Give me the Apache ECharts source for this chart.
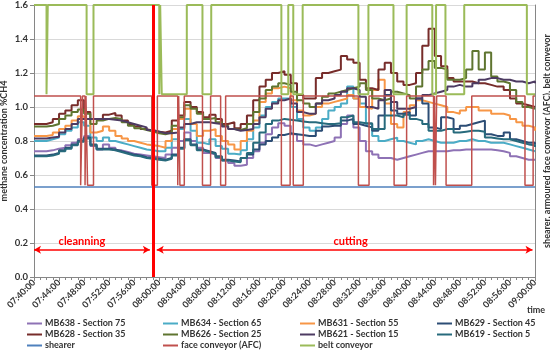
<!DOCTYPE html>
<html><head><meta charset="utf-8">
<script src="https://cdn.jsdelivr.net/npm/echarts@6/dist/echarts.min.js"></script>
<style>html,body{margin:0;padding:0;background:#fff}#c{width:550px;height:353px}</style>
</head><body><div id="c"></div>
<script>
// ---- tick labels (every 4 minutes from 07:40) ----
const timeLabels = ['07:40:00','07:44:00','07:48:00','07:52:00','07:56:00','08:00:00','08:04:00','08:08:00','08:12:00','08:16:00','08:20:00','08:24:00','08:28:00','08:32:00','08:36:00','08:40:00','08:44:00','08:48:00','08:52:00','08:56:00','09:00:00'];
// minutes after 07:40, one sample per minute
const minutes = Array.from({length: 81}, (_, i) => i);

// ---- methane concentration %CH4, one value per minute (m0..m80) ----
const mb638 = [0.74,0.74,0.745,0.755,0.76,0.775,0.79,0.81,0.83,0.77,0.75,0.78,0.76,0.745,0.735,0.725,0.72,0.715,0.71,0.705,0.70,
  0.72,0.76,0.80,0.85,0.80,0.76,0.73,0.72,0.70,0.685,0.67,0.655,0.66,0.70,0.74,0.79,0.84,0.88,0.905,0.89,
  0.84,0.80,0.78,0.77,0.78,0.79,0.80,0.82,0.90,0.95,0.88,0.80,0.74,0.72,0.70,0.70,0.69,0.70,0.71,0.72,
  0.73,0.74,0.74,0.74,0.74,0.745,0.745,0.75,0.75,0.75,0.75,0.75,0.745,0.74,0.73,0.71,0.70,0.69,0.69,0.69];
const mb634 = [0.80,0.80,0.81,0.82,0.84,0.86,0.88,0.91,0.89,0.82,0.80,0.82,0.80,0.79,0.78,0.77,0.76,0.75,0.745,0.74,0.74,
  0.76,0.81,0.87,0.93,0.86,0.79,0.78,0.81,0.77,0.755,0.725,0.72,0.745,0.81,0.88,0.95,1.00,1.03,1.05,1.05,
  1.00,0.93,0.88,0.86,0.88,0.93,0.98,1.00,1.02,1.12,1.05,1.02,0.90,0.83,0.80,0.81,0.82,0.80,0.79,0.78,
  0.80,0.81,0.80,0.79,0.79,0.79,0.80,0.80,0.81,0.80,0.80,0.79,0.79,0.79,0.78,0.77,0.76,0.75,0.74,0.74];
const mb631 = [0.83,0.83,0.835,0.85,0.87,0.89,0.92,0.945,0.93,0.85,0.86,0.885,0.86,0.83,0.815,0.80,0.79,0.78,0.775,0.77,0.76,
  0.80,0.87,0.93,0.99,0.90,0.83,0.86,0.87,0.83,0.80,0.78,0.75,0.80,0.86,0.92,1.03,1.08,1.11,1.12,1.11,
  1.04,0.98,0.95,0.96,1.00,1.02,1.03,1.04,1.05,1.07,1.05,1.00,0.99,1.10,1.16,1.02,0.90,0.88,0.97,1.01,
  1.04,1.03,1.02,1.01,1.00,0.97,0.96,0.98,1.00,1.00,0.98,0.98,0.96,0.96,0.95,0.93,0.91,0.89,0.88,0.86];
const mb629 = [0.715,0.715,0.72,0.73,0.745,0.76,0.78,0.80,0.82,0.78,0.755,0.755,0.75,0.74,0.73,0.72,0.715,0.705,0.70,0.695,0.69,
  0.70,0.72,0.76,0.81,0.78,0.75,0.74,0.73,0.71,0.69,0.685,0.68,0.70,0.72,0.75,0.78,0.80,0.82,0.835,0.845,
  0.84,0.835,0.83,0.83,0.86,0.885,0.89,0.89,0.92,0.93,0.90,0.89,0.88,0.86,0.95,1.07,0.98,0.96,0.97,0.95,
  1.05,1.02,0.88,0.87,0.94,0.93,0.87,0.89,0.90,0.91,0.92,0.84,0.83,0.83,0.85,0.81,0.80,0.79,0.79,0.78];
const mb628 = [0.90,0.90,0.91,0.93,0.96,0.98,1.01,1.04,0.97,0.93,0.93,0.955,0.965,0.95,0.92,0.90,0.885,0.87,0.86,0.855,0.85,
  0.86,0.92,0.95,1.03,1.00,0.97,0.94,0.955,0.93,0.90,0.91,0.875,0.90,0.95,1.04,1.12,1.16,1.20,1.21,1.19,
  1.14,1.07,1.05,1.05,1.17,1.20,1.21,1.22,1.30,1.28,1.26,1.16,1.11,1.10,1.22,1.26,1.20,1.15,1.13,1.14,
  1.20,1.36,1.46,1.30,1.24,1.17,1.15,1.15,1.15,1.14,1.14,1.13,1.12,1.12,1.10,1.05,1.02,1.01,1.00,1.00];
const mb626 = [0.885,0.885,0.89,0.90,0.93,0.95,0.97,0.985,0.96,0.90,0.92,0.93,0.935,0.93,0.91,0.89,0.875,0.865,0.855,0.845,0.84,
  0.85,0.89,0.94,1.01,0.99,0.96,0.93,0.935,0.91,0.89,0.87,0.865,0.875,0.90,0.97,1.05,1.10,1.12,1.14,1.13,
  1.09,1.04,1.02,1.00,1.02,1.06,1.08,1.09,1.10,1.11,1.12,1.14,1.10,1.05,1.04,1.05,1.09,1.08,1.07,1.05,
  1.12,1.22,1.27,1.23,1.22,1.16,1.16,1.17,1.22,1.33,1.22,1.32,1.18,1.15,1.14,1.10,1.03,1.00,0.99,0.99];
const mb621 = [0.815,0.815,0.82,0.825,0.85,0.87,0.90,0.93,0.93,0.93,0.93,0.93,0.925,0.92,0.91,0.90,0.89,0.88,0.865,0.855,0.845,
  0.845,0.85,0.88,0.90,0.91,0.91,0.91,0.905,0.90,0.885,0.87,0.86,0.865,0.87,0.90,0.94,0.99,1.02,1.04,1.05,
  1.02,0.97,0.96,0.96,1.02,1.04,1.05,1.07,1.09,1.11,1.10,1.06,1.00,0.99,1.04,1.10,1.03,0.99,0.99,1.00,
  1.05,1.07,1.08,1.09,1.10,1.12,1.13,1.12,1.12,1.14,1.16,1.17,1.17,1.16,1.16,1.15,1.15,1.14,1.15,1.14];
const mb619 = [0.71,0.71,0.715,0.725,0.74,0.755,0.775,0.795,0.815,0.775,0.75,0.75,0.745,0.735,0.725,0.715,0.71,0.70,0.695,0.69,0.685,
  0.695,0.715,0.755,0.805,0.775,0.745,0.735,0.725,0.705,0.685,0.68,0.675,0.70,0.73,0.79,0.85,0.90,0.92,0.93,0.925,
  0.92,0.915,0.91,0.91,0.905,0.90,0.90,0.905,0.94,0.95,0.91,0.905,0.905,0.87,0.87,0.95,0.95,0.94,0.955,0.93,
  0.92,0.90,0.86,0.86,0.87,0.87,0.85,0.855,0.86,0.86,0.855,0.82,0.815,0.81,0.81,0.80,0.79,0.78,0.775,0.765];

// ---- machines (right axis, state signals) ----
const shearerLevel = 0.53;
const afcOnLevel = 1.065, afcOffLevel = 0.54;
const beltOnLevel = 1.6, beltOffLevel = 1.075;
const afcSwitchMin = [0,7.45,7.75,8.15,8.3,8.55,9.5,18.8,19.7,22.95,23.1,23.3,24.0,26.9,28.2,29.8,30.6,39.5,40.9,41.4,43.0,51.8,53.5,57.5,59.5,63.8,63.95,64.1,64.3,65.8,69.9,78.4,79.7];
const afcState     = [1,0,1,0,1,0,1,0,1,0,1,0,1,0,1,0,1,0,1,0,1,0,1,0,1,0,1,0,1,0,1,0,1];
const beltSwitchMin = [0,2.0,2.2,8.4,9.5,20.0,20.15,20.4,24.4,26.9,28.3,39.5,40.6,41.4,42.9,51.8,53.4,57.4,59.5,63.6,64.2,65.7,68.7,78.7];
const beltState     = [1,0,1,0,1,0,1,0,1,0,1,0,1,0,1,0,1,0,1,0,1,0,1,0];
const markerMinute = 19.05;   // red line: end of cleaning / start of cutting
const phaseArrowLevel = 0.16;

const FONT = 'Lato';
const TXT = '#333333';

function pairs(vals) { return minutes.map((m, i) => [m, vals[i]]); }
function stateData(sw, st, on, off) {
  const d = sw.map((t, i) => [t, st[i] ? on : off]);
  d.push([80, st[st.length - 1] ? on : off]);
  return d;
}

const methane = [
  ['MB638 - Section 75', mb638, '#8e72b5'],
  ['MB634 - Section 65', mb634, '#4BACC6'],
  ['MB631 - Section 55', mb631, '#F79646'],
  ['MB629 - Section 45', mb629, '#2C4D75'],
  ['MB628 - Section 35', mb628, '#772C2A'],
  ['MB626 - Section 25', mb626, '#5F7530'],
  ['MB621 - Section 15', mb621, '#4D3B62'],
  ['MB619 - Section 5',  mb619, '#276A7C']
];

const series = methane.map(([name, vals, color]) => ({
  name, type: 'line', step: 'end', symbol: 'none', showSymbol: false, data: pairs(vals),
  lineStyle: { color, width: 2 }, itemStyle: { color }, z: 2
}));
series.push({
  name: 'shearer', type: 'line', yAxisIndex: 1, symbol: 'none', showSymbol: false,
  data: [[0, shearerLevel], [80, shearerLevel]],
  lineStyle: { color: '#4F81BD', width: 1.5 }, itemStyle: { color: '#4F81BD' }, z: 3
});
series.push({
  name: 'face conveyor (AFC)', type: 'line', yAxisIndex: 1, step: 'end', symbol: 'none', showSymbol: false,
  data: stateData(afcSwitchMin, afcState, afcOnLevel, afcOffLevel),
  lineStyle: { color: '#C0504D', width: 1.5 }, itemStyle: { color: '#C0504D' }, z: 3
});
series.push({
  name: 'belt conveyor', type: 'line', yAxisIndex: 1, step: 'end', symbol: 'none', showSymbol: false,
  data: stateData(beltSwitchMin, beltState, beltOnLevel, beltOffLevel),
  lineStyle: { color: '#9BBB59', width: 2 }, itemStyle: { color: '#9BBB59' }, z: 4,
  markLine: {
    silent: true, animation: false,
    symbol: ['arrow', 'arrow'], symbolSize: [6, 7],
    lineStyle: { color: '#ff0000', width: 1.5, type: 'solid' },
    label: { show: true, position: 'middle', color: '#ff0000', fontWeight: 'bold', fontSize: 11, fontFamily: FONT, distance: 3 },
    data: [
      [{ coord: [0, phaseArrowLevel], label: { formatter: 'cleanning', padding: [0, 20, 0, 0] } }, { coord: [18.5, phaseArrowLevel] }],
      [{ coord: [19.6, phaseArrowLevel], label: { formatter: 'cutting', padding: [0, 0, 0, 12] } }, { coord: [79.6, phaseArrowLevel] }],
      [{ coord: [markerMinute, 1.6], symbol: 'none', lineStyle: { width: 3, color: '#ff0000' }, label: { show: false } },
       { coord: [markerMinute, 0], symbol: 'none' }]
    ]
  }
});

const legendNames = series.map(s => s.name);
const colX = [27, 163, 300, 437];
const rowY = [319, 330, 341];
const legends = legendNames.map((n, i) => ({
  data: [n], left: colX[i % 4], top: rowY[Math.floor(i / 4)],
  icon: 'rect', itemWidth: 15, itemHeight: 2, itemGap: 0, selectedMode: false, padding: 0,
  textStyle: { fontFamily: FONT, fontSize: 9, fontWeight: 'bold', color: TXT, padding: [0, 0, 0, -2] }
}));

const chart = echarts.init(document.getElementById('c'), null, { renderer: 'canvas' });
chart.setOption({
  animation: false,
  backgroundColor: '#ffffff',
  textStyle: { fontFamily: FONT },
  grid: { left: 34, right: 15, top: 5, bottom: 76, containLabel: false, outerBoundsMode: 'none' },
  legend: legends,
  xAxis: {
    type: 'value', min: 0, max: 80, interval: 4,
    axisLine: { lineStyle: { color: '#868686', width: 1 } },
    axisTick: { show: true, length: 4, lineStyle: { color: '#868686' } },
    minorTick: { show: true, splitNumber: 4, length: 3, lineStyle: { color: '#868686' } },
    splitLine: { show: false },
    axisLabel: { rotate: 45, margin: 4, formatter: v => timeLabels[Math.round(v / 4)], fontFamily: FONT, fontSize: 9, fontWeight: 'bold', color: TXT }
  },
  yAxis: [{
    type: 'value', min: 0, max: 1.6, interval: 0.2,
    name: 'methane concentration %CH4', nameLocation: 'middle', nameGap: 25, nameMoveOverlap: false,
    nameTextStyle: { fontFamily: FONT, fontSize: 9, fontWeight: 'bold', color: TXT },
    axisLine: { show: true, lineStyle: { color: '#868686' } },
    axisTick: { show: true, length: 4, lineStyle: { color: '#868686' } },
    splitLine: { lineStyle: { color: '#d9d9d9' } },
    axisLabel: { formatter: v => v.toFixed(1), fontFamily: FONT, fontSize: 9.5, fontWeight: 'bold', color: TXT, margin: 6 }
  }, {
    type: 'value', min: 0, max: 1.6, position: 'right',
    name: 'shearer, armoured face conveyor (AFC), belt conveyor', nameLocation: 'middle', nameGap: 8, nameRotate: 90, nameMoveOverlap: false,
    nameTextStyle: { fontFamily: FONT, fontSize: 9, fontWeight: 'bold', color: TXT },
    axisLine: { show: true, lineStyle: { color: '#868686' } },
    axisTick: { show: false }, axisLabel: { show: false }, splitLine: { show: false }
  }],
  graphic: [{ type: 'text', left: 527, top: 306, style: { text: 'time', font: 'bold 9px Lato', fill: TXT } }],
  series
});
</script></body></html>
